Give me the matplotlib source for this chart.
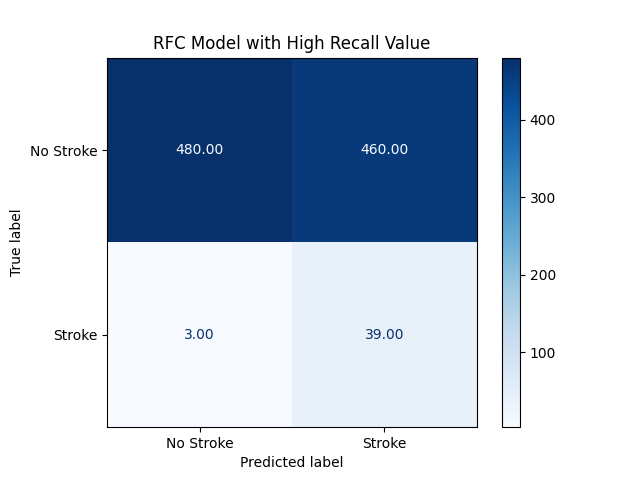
import numpy as np
import matplotlib
matplotlib.use("Agg")
import matplotlib.pyplot as plt

labels = ["No Stroke", "Stroke"]
row_no_stroke = [480, 460]
row_stroke = [3, 39]

cm = np.array([row_no_stroke, row_stroke], dtype=float)

fig, ax = plt.subplots(figsize=(6.4, 4.8), dpi=100)
cmap = plt.get_cmap("Blues")
im = ax.imshow(cm, interpolation="nearest", cmap=cmap)
cmap_min, cmap_max = im.cmap(0), im.cmap(1.0)
thresh = (cm.max() + cm.min()) / 2.0
for i in range(cm.shape[0]):
    for j in range(cm.shape[1]):
        color = cmap_max if cm[i, j] < thresh else cmap_min
        ax.text(j, i, f"{cm[i, j]:.2f}", ha="center", va="center", color=color)
fig.colorbar(im, ax=ax)
ax.set(xticks=np.arange(2), yticks=np.arange(2),
       xticklabels=labels, yticklabels=labels,
       xlabel="Predicted label", ylabel="True label")
ax.set_ylim((1.5, -0.5))
ax.set_title("RFC Model with High Recall Value")
fig.savefig("out.png")
